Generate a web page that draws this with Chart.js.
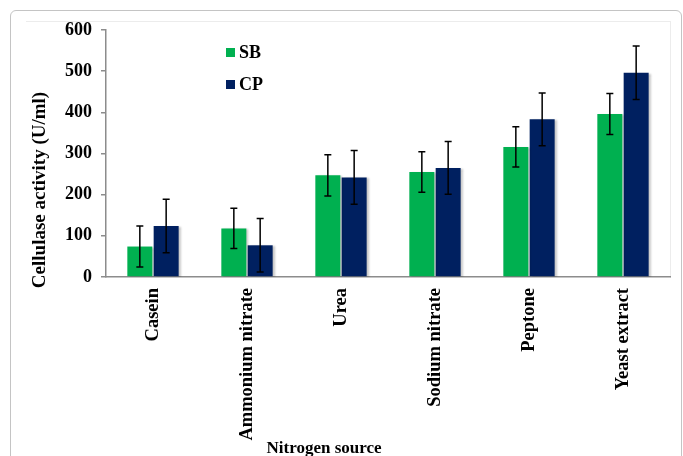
<!DOCTYPE html>
<html>
<head>
<meta charset="utf-8">
<script src="https://cdn.jsdelivr.net/npm/chart.js@4"></script>
<style>
  body { margin: 0; background: #fff; }
  #wrap { position: relative; width: 683px; height: 456px; overflow: hidden; }
  #frame { position: absolute; left: 10px; top: 10px; width: 670px; height: 480px;
           border: 1.5px solid #c4c4c4; border-radius: 6px; }
  #plotEdge { position: absolute; left: 26px; top: 21px; width: 644px; height: 256px;
              border-top: 1px solid #ececec; border-right: 1px solid #ececec; }
  #chart { position: absolute; left: 0; top: 0; }
  .leg { position: absolute; left: 226px; font: bold 18px "Liberation Serif", "Times New Roman", serif;
         color: #000; display: flex; align-items: center; }
  .leg span.box { width: 9px; height: 9px; display: inline-block; margin-right: 4px; }
</style>
</head>
<body>
<div id="wrap">
  <div id="frame"></div>
  <div id="plotEdge"></div>
  <canvas id="chart" width="683" height="456"></canvas>
  <div id="legend"></div>
</div>
<script>
// Data
const categories = ['Casein', 'Ammonium nitrate', 'Urea', 'Sodium nitrate', 'Peptone', 'Yeast extract'];
const seriesNames = ['SB', 'CP'];
const sbValues = [74, 118, 247, 255, 316, 396];
const sbErrors = [50, 49, 50, 49, 49, 50];
const cpValues = [124, 77, 242, 265, 383, 496];
const cpErrors = [65, 65, 65, 64, 64, 65];
const yTicks = [0, 100, 200, 300, 400, 500, 600];

const colors = ['#00b050', '#002060'];
const serif = '"Liberation Serif", "Times New Roman", serif';

// simple stacked legend like the original
const legend = document.getElementById('legend');
seriesNames.forEach(function (name, i) {
    const d = document.createElement('div');
    d.className = 'leg';
    d.style.top = (42 + i * 32) + 'px';
    d.innerHTML = '<span class="box" style="background:' + colors[i] + '"></span>' + name;
    legend.appendChild(d);
});

// error bars drawn from the y scale
const errorBars = {
    id: 'errorBars',
    afterDatasetsDraw(chart) {
        const ctx = chart.ctx;
        const y = chart.scales.y;
        ctx.save();
        ctx.strokeStyle = '#000';
        ctx.lineWidth = 1.5;
        chart.data.datasets.forEach(function (ds, di) {
            const meta = chart.getDatasetMeta(di);
            meta.data.forEach(function (bar, i) {
                const v = ds.data[i], e = ds.errors[i];
                const top = y.getPixelForValue(v + e);
                const bot = y.getPixelForValue(v - e);
                ctx.beginPath();
                ctx.moveTo(bar.x, top); ctx.lineTo(bar.x, bot);
                ctx.moveTo(bar.x - 3.5, top); ctx.lineTo(bar.x + 3.5, top);
                ctx.moveTo(bar.x - 3.5, bot); ctx.lineTo(bar.x + 3.5, bot);
                ctx.stroke();
            });
        });
        ctx.restore();
    }
};

// soft shadow on bars
const barShadow = {
    id: 'barShadow',
    beforeDatasetsDraw(chart) {
        const ctx = chart.ctx;
        ctx.save();
        ctx.shadowColor = 'rgba(0,0,0,0.22)';
        ctx.shadowBlur = 2;
        ctx.shadowOffsetX = 2;
        ctx.shadowOffsetY = 1;
    },
    afterDatasetsDraw(chart) {
        chart.ctx.restore();
    }
};

// axis titles, placed where the figure has them (not centred on the plot)
const axisTitles = {
    id: 'axisTitles',
    afterDraw(chart) {
        const ctx = chart.ctx;
        ctx.save();
        ctx.fillStyle = '#000';
        ctx.textAlign = 'center';
        ctx.textBaseline = 'middle';
        ctx.font = 'bold 17px ' + serif;
        ctx.fillText('Nitrogen source', 324, 449);
        ctx.font = 'bold 19px ' + serif;
        ctx.translate(40, 190);
        ctx.rotate(-Math.PI / 2);
        ctx.fillText('Cellulase activity (U/ml)', 0, 0);
        ctx.restore();
    }
};

const ctx = document.getElementById('chart').getContext('2d');
new Chart(ctx, {
    type: 'bar',
    data: {
        labels: categories,
        datasets: [
            {
                label: seriesNames[0],
                data: sbValues,
                errors: sbErrors,
                backgroundColor: colors[0],
                categoryPercentage: 0.56,
                barPercentage: 0.95
            },
            {
                label: seriesNames[1],
                data: cpValues,
                errors: cpErrors,
                backgroundColor: colors[1],
                categoryPercentage: 0.56,
                barPercentage: 0.95
            }
        ]
    },
    options: {
        responsive: false,
        animation: false,
        layout: { padding: { left: 14, right: 13, top: 30, bottom: 0 } },
        plugins: {
            legend: { display: false },
            tooltip: { enabled: false }
        },
        scales: {
            x: {
                grid: { display: false, drawTicks: false },
                border: { display: true, color: '#8c8c8c', width: 1.5 },
                ticks: {
                    color: '#000',
                    font: { family: serif, size: 18.5, weight: 'bold' },
                    minRotation: 90,
                    maxRotation: 90,
                    padding: 11,
                    autoSkip: false
                },
                afterFit(scale) { scale.height = 179; }
            },
            y: {
                min: 0,
                max: 600,
                afterBuildTicks(scale) { scale.ticks = yTicks.map(v => ({ value: v })); },
                grid: { drawOnChartArea: false, tickLength: 5, color: '#8c8c8c', lineWidth: 1.5 },
                border: { display: true, color: '#8c8c8c', width: 1.5 },
                ticks: {
                    color: '#000',
                    font: { family: serif, size: 18, weight: 'bold' },
                    padding: 9
                },
                afterFit(scale) { scale.width = 92; }
            }
        }
    },
    plugins: [barShadow, errorBars, axisTitles]
});
</script>
</body>
</html>
